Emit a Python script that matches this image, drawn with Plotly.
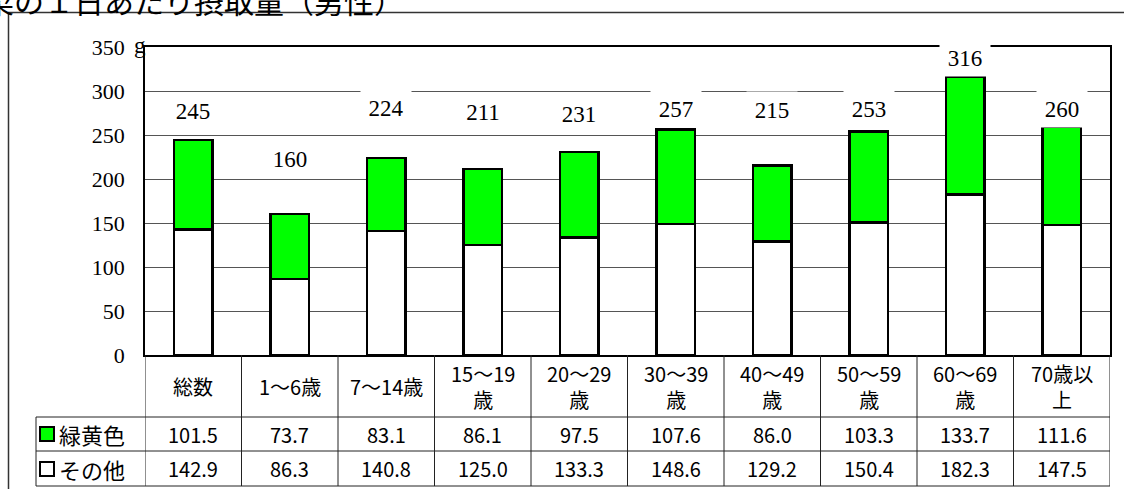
import plotly.graph_objects as go

# ---- data ----
categories = ["総数", "1～6歳", "7～14歳", "15～19歳", "20～29歳",
              "30～39歳", "40～49歳", "50～59歳", "60～69歳", "70歳以上"]
header_labels = ["総数", "1～6歳", "7～14歳", "15～19<br>歳", "20～29<br>歳",
                 "30～39<br>歳", "40～49<br>歳", "50～59<br>歳", "60～69<br>歳", "70歳以<br>上"]
green_yellow = [101.5, 73.7, 83.1, 86.1, 97.5, 107.6, 86.0, 103.3, 133.7, 111.6]
others = [142.9, 86.3, 140.8, 125.0, 133.3, 148.6, 129.2, 150.4, 182.3, 147.5]
totals = [245, 160, 224, 211, 231, 257, 215, 253, 316, 260]
y_ticks = [0, 50, 100, 150, 200, 250, 300, 350]

# label placement (layout, in axis units)
label_pos = [277, 223, 281, 276, 274, 280, 278, 280, 338, 280]

W, H = 1124, 489
PL, PR, PT, PB = 145, 1110, 47, 355


def px_x(x):
    return (x - PL) / (PR - PL)


def px_y(y):
    return (PB - y) / (PB - PT)


SERIF = "Liberation Serif, DejaVu Serif, serif"
GOTH = "Noto Sans CJK JP, Noto Sans, sans-serif"

fig = go.Figure()
fig.add_trace(go.Bar(x=categories, y=others, name="その他", width=0.4,
                     marker=dict(color="white", line=dict(color="black", width=2.5))))
fig.add_trace(go.Bar(x=categories, y=green_yellow, name="緑黄色", width=0.4,
                     marker=dict(color="#00FF00", line=dict(color="black", width=2.5))))

annotations = []
# total labels
for c, t, yp in zip(categories, totals, label_pos):
    annotations.append(dict(x=c, y=yp, xref="x", yref="y", text=str(t), showarrow=False,
                            font=dict(family=SERIF, size=23, color="black"),
                            bgcolor="white", width=48, height=34, yanchor="middle"))
# unit g
annotations.append(dict(x=0, y=350, xref="paper", yref="y", text="g", showarrow=False,
                        xanchor="center", xshift=-5, yshift=2,
                        font=dict(family=SERIF, size=23, color="black")))
# title (partially cut off, as in reference)
annotations.append(dict(x=px_x(406), y=px_y(0), xref="paper", yref="paper",
                        text="野菜の１日あたり摂取量（男性）", showarrow=False,
                        xanchor="right", yanchor="middle",
                        font=dict(family=GOTH, size=30, color="black")))

# table: header row
hdr_y = px_y((355 + 417) / 2)
row1_y = px_y((417 + 451) / 2)
row2_y = px_y((451 + 486) / 2)
for c, hl, g, o in zip(categories, header_labels, green_yellow, others):
    annotations.append(dict(x=c, y=hdr_y, xref="x", yref="paper", text=hl, showarrow=False,
                            font=dict(family=GOTH, size=20, color="black"), yanchor="middle"))
    annotations.append(dict(x=c, y=row1_y, xref="x", yref="paper", text=f"{g:.1f}", showarrow=False,
                            font=dict(family=GOTH, size=20, color="black"), yanchor="middle"))
    annotations.append(dict(x=c, y=row2_y, xref="x", yref="paper", text=f"{o:.1f}", showarrow=False,
                            font=dict(family=GOTH, size=20, color="black"), yanchor="middle"))
# legend texts
annotations.append(dict(x=px_x(57), y=row1_y, xref="paper", yref="paper", text="緑黄色",
                        showarrow=False, xanchor="left", yanchor="middle",
                        font=dict(family=GOTH, size=22, color="black")))
annotations.append(dict(x=px_x(57), y=row2_y, xref="paper", yref="paper", text="その他",
                        showarrow=False, xanchor="left", yanchor="middle",
                        font=dict(family=GOTH, size=22, color="black")))

shapes = []
LC = "#222"
# horizontal table lines
for yy, x0 in [(417, 36), (451, 36), (486, 36)]:
    shapes.append(dict(type="line", xref="paper", yref="paper", x0=px_x(x0), x1=1,
                       y0=px_y(yy), y1=px_y(yy), line=dict(color=LC, width=1)))
# vertical column separators
for i in range(len(categories) + 1):
    shapes.append(dict(type="line", xref="x", yref="paper", x0=i - 0.5, x1=i - 0.5,
                       y0=0, y1=px_y(486), line=dict(color=LC, width=1)))
# legend column left border
shapes.append(dict(type="line", xref="paper", yref="paper", x0=px_x(36), x1=px_x(36),
                   y0=px_y(417), y1=px_y(486), line=dict(color=LC, width=1)))
# legend squares
shapes.append(dict(type="rect", xref="paper", yref="paper", x0=px_x(40), x1=px_x(54),
                   y0=px_y(441), y1=px_y(427), fillcolor="#00FF00",
                   line=dict(color="black", width=2)))
shapes.append(dict(type="rect", xref="paper", yref="paper", x0=px_x(40), x1=px_x(54),
                   y0=px_y(476), y1=px_y(462), fillcolor="white",
                   line=dict(color="black", width=2)))
# outer frame (extends past the picture)
shapes.append(dict(type="line", xref="paper", yref="paper", x0=px_x(8), x1=px_x(1200),
                   y0=px_y(12.5), y1=px_y(12.5), line=dict(color="#333", width=1.5)))
shapes.append(dict(type="line", xref="paper", yref="paper", x0=px_x(8.5), x1=px_x(8.5),
                   y0=px_y(12.5), y1=px_y(560), line=dict(color="#333", width=1.5)))

fig.update_layout(
    width=W, height=H,
    margin=dict(l=PL, r=W - PR, t=PT, b=H - PB, pad=0),
    barmode="stack", showlegend=False,
    plot_bgcolor="white", paper_bgcolor="white",
    bargap=0.6,
    annotations=annotations, shapes=shapes,
    xaxis=dict(type="category", showline=True, linecolor="black", linewidth=1.5, mirror=True,
               showticklabels=False, showgrid=False, ticks="", range=[-0.5, 9.5]),
    yaxis=dict(range=[0, 350], tickvals=y_ticks, showgrid=True, gridcolor="#555", gridwidth=1,
               showline=True, linecolor="black", linewidth=1.5, mirror=True, ticks="",
               zeroline=False, ticklabelstandoff=14,
               tickfont=dict(family=SERIF, size=22, color="black")),
)

fig.write_html(
    "out.html",
    config={"displayModeBar": False},
    post_script="document.body.style.margin='0';document.body.style.overflow='hidden';",
)
